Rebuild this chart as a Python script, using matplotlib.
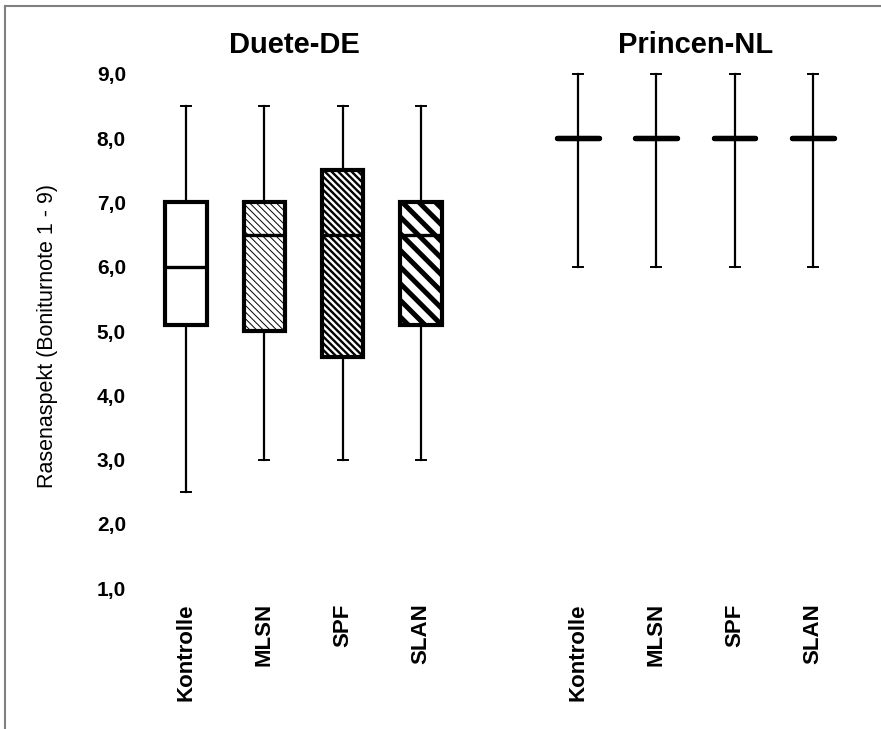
import matplotlib
matplotlib.use("Agg")
import matplotlib.pyplot as plt
from matplotlib.lines import Line2D

plt.rcParams["font.family"] = ["Liberation Sans", "DejaVu Sans"]

# %%
treatments = ["Kontrolle", "MLSN", "SPF", "SLAN"]
groups = ["Duete-DE", "Princen-NL"]

# five-number summaries (Boniturnote 1 - 9)
duete_whislo = [2.5, 3.0, 3.0, 3.0]
duete_q1 = [5.1, 5.0, 4.6, 5.1]
duete_med = [6.0, 6.5, 6.5, 6.5]
duete_q3 = [7.0, 7.0, 7.5, 7.0]
duete_whishi = [8.5, 8.5, 8.5, 8.5]

princen_whislo = [6.0, 6.0, 6.0, 6.0]
princen_q1 = [8.0, 8.0, 8.0, 8.0]
princen_med = [8.0, 8.0, 8.0, 8.0]
princen_q3 = [8.0, 8.0, 8.0, 8.0]
princen_whishi = [9.0, 9.0, 9.0, 9.0]

yticks = [1, 2, 3, 4, 5, 6, 7, 8, 9]
ytick_labels = ["1,0", "2,0", "3,0", "4,0", "5,0", "6,0", "7,0", "8,0", "9,0"]

duete_pos = [1, 2, 3, 4]
princen_pos = [6, 7, 8, 9]

hatches = [None, "\\" * 5, "\\" * 5, "\\" * 2]
hatch_lw = [0, 0.7, 1.7, 3.6]


def make_stats(lo, q1, med, q3, hi):
    return [dict(whislo=a, q1=b, med=c, q3=d, whishi=e, fliers=[])
            for a, b, c, d, e in zip(lo, q1, med, q3, hi)]


# %%
fig = plt.figure(figsize=(8.81, 7.29), dpi=100)
ax = fig.add_axes([0.1666, 0.1934, 0.8007, 0.7051])

box_kw = dict(patch_artist=True, widths=0.53, capwidths=0.13,
              boxprops=dict(facecolor="white", edgecolor="black", linewidth=3.0),
              whiskerprops=dict(color="black", linewidth=1.6),
              capprops=dict(color="black", linewidth=1.4))

duete = ax.bxp(make_stats(duete_whislo, duete_q1, duete_med, duete_q3, duete_whishi),
               positions=duete_pos,
               medianprops=dict(color="black", linewidth=2.4),
               **box_kw)
princen = ax.bxp(make_stats(princen_whislo, princen_q1, princen_med, princen_q3,
                            princen_whishi),
                 positions=princen_pos,
                 medianprops=dict(color="black", linewidth=3.8,
                                  solid_capstyle="round"),
                 **box_kw)

for box, h, lw in zip(duete["boxes"], hatches, hatch_lw):
    if h:
        box.set_hatch(h)
        if hasattr(box, "set_hatch_linewidth"):
            box.set_hatch_linewidth(lw)
for box in princen["boxes"]:
    box.set_linewidth(3.8)
    box.set_capstyle("round")
for art in ax.get_children():
    art.set_clip_on(False)

ax.set_xlim(0.5, 9.5)
ax.set_ylim(1, 9)
ax.set_yticks(yticks)
ax.set_yticklabels(ytick_labels, fontsize=15, fontweight="bold")
ax.set_xticks(duete_pos + princen_pos)
ax.set_xticklabels(treatments + treatments, rotation=90, fontsize=16,
                   fontweight="bold", va="top")
ax.tick_params(axis="both", length=0)
ax.tick_params(axis="y", pad=15)
ax.tick_params(axis="x", pad=11)
for s in ax.spines.values():
    s.set_visible(False)

ax.set_ylabel("Rasenaspekt (Boniturnote 1 - 9)", fontsize=15.5)
ax.yaxis.set_label_coords(-0.126, 0.49)

ax.text(2.38, 9.45, groups[0], ha="center", va="center", fontsize=21,
        fontweight="bold")
ax.text(7.5, 9.45, groups[1], ha="center", va="center", fontsize=21,
        fontweight="bold")

# grey frame at the top and left edge
fig.add_artist(Line2D([0.0057, 1.0], [0.9918, 0.9918], color="#808080", lw=1.5))
fig.add_artist(Line2D([0.0057, 0.0057], [0.0, 0.9918], color="#808080", lw=1.5))

fig.savefig("out.png", dpi=100, facecolor="white")
